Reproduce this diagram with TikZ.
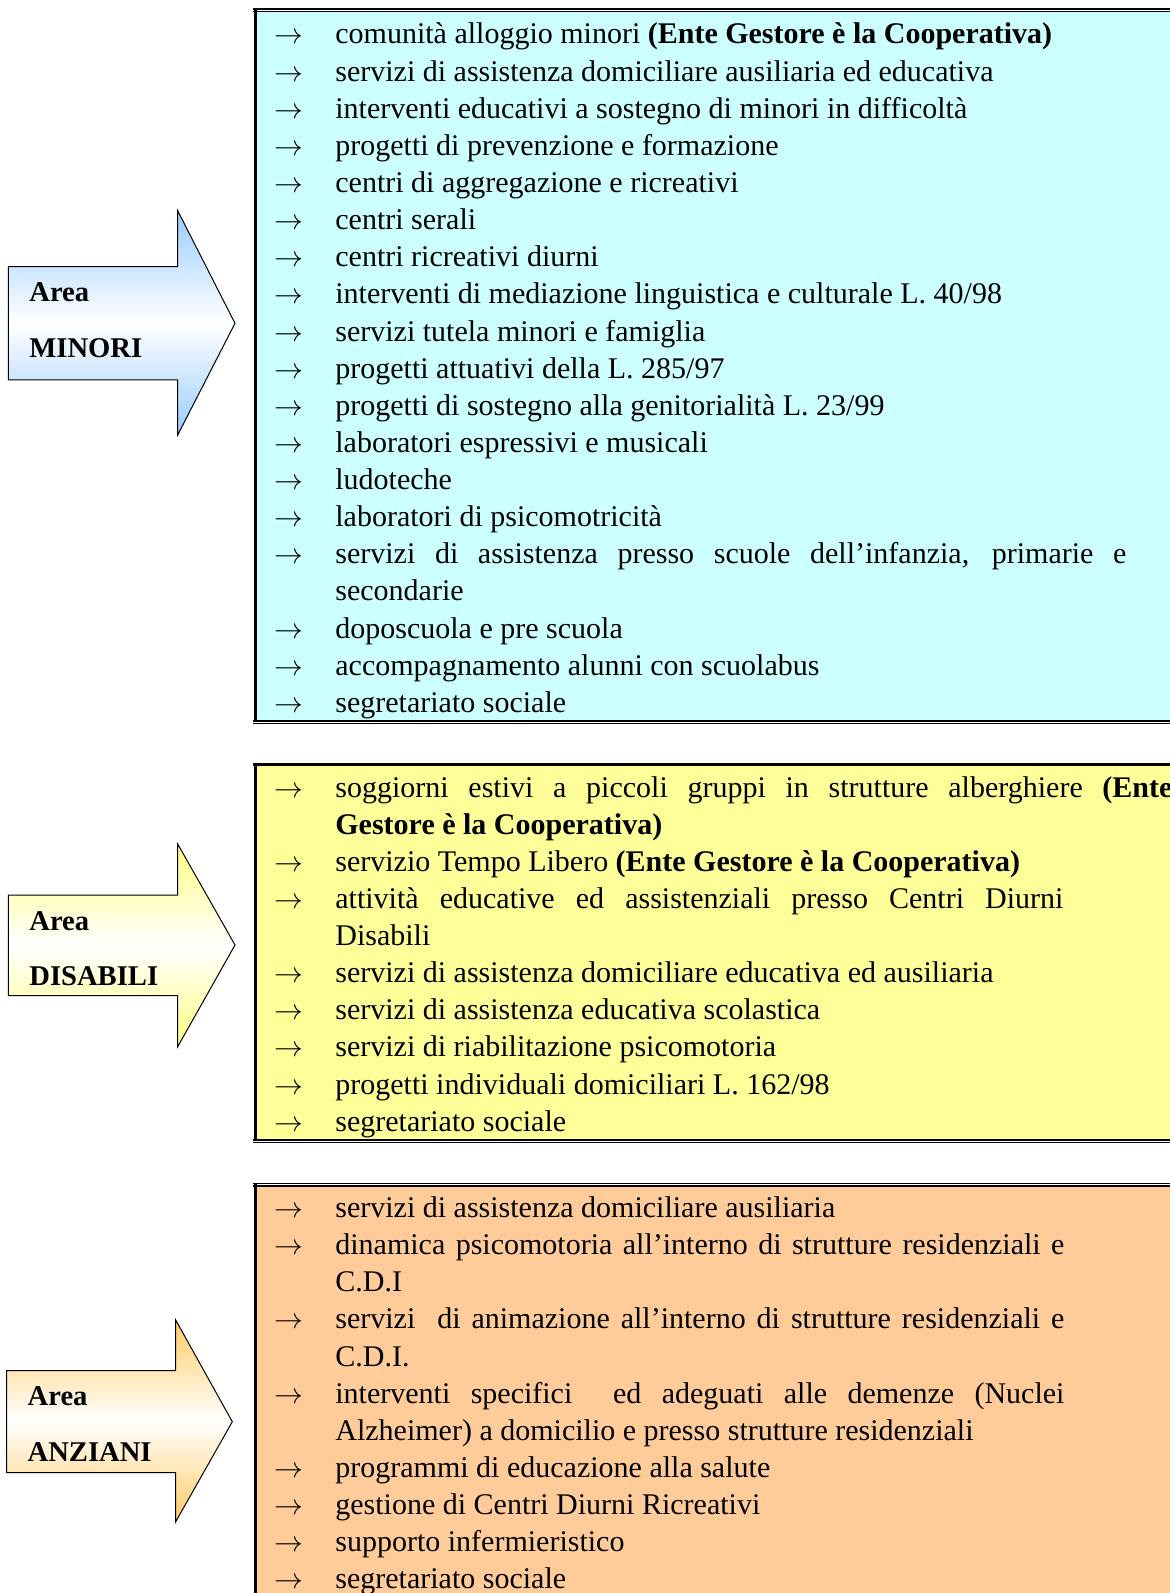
\documentclass[tikz,border=0pt]{standalone}
\usepackage{fontspec}
\setmainfont{Liberation Serif}
\definecolor{azzurro}{HTML}{CCFFFF}
\definecolor{giallo}{HTML}{FFFF99}
\definecolor{pesca}{HTML}{FFCC99}
\definecolor{blufreccia}{HTML}{99CCFF}
\definecolor{giallofreccia}{HTML}{FFFF80}
\definecolor{aranciofreccia}{HTML}{FFCC66}
\newcommand{\giust}[2]{\makebox[#1][s]{#2}}
\tikzset{
  voce/.style={anchor=base west, inner sep=0pt, font=\fontsize{15}{17}\selectfont},
  freccia/.style={anchor=base, inner sep=0pt, font=\fontsize{13.5}{14}\selectfont},
  area/.style={anchor=base west, inner sep=0pt, font=\fontsize{14.3}{16}\selectfont\bfseries},
  spesso/.style={line width=1pt},
  sottile/.style={line width=0.45pt},
  lato/.style={line width=1.5pt},
  sagoma/.style={draw=black, line width=0.5pt, top color=#1, bottom color=#1, middle color=white},
}

\begin{document}
\begin{tikzpicture}[x=0.5pt, y=-0.5pt]
    \useasboundingbox (0,0) rectangle (1170,1593);
    \clip (0,0) rectangle (1170,1593);

    % riquadri
    \fill[azzurro] (257,11) rectangle (1180,720.5);
    \draw[spesso] (253,9) -- (1180,9);
    \draw[sottile] (253,11.4) -- (1180,11.4);
    \draw[spesso] (253,721.3) -- (1180,721.3);
    \draw[sottile] (253,723.4) -- (1180,723.4);
    \draw[lato] (255.5,9) -- (255.5,721.8);

    \fill[giallo] (257,765) rectangle (1180,1139.5);
    \draw[sottile] (253,763) -- (1180,763);
    \draw[spesso] (253,765.2) -- (1180,765.2);
    \draw[spesso] (253,1140.2) -- (1180,1140.2);
    \draw[sottile] (253,1142.4) -- (1180,1142.4);
    \draw[lato] (255.5,763) -- (255.5,1140.7);

    \fill[pesca] (257,1186) rectangle (1180,1600);
    \draw[sottile] (253,1183.5) -- (1180,1183.5);
    \draw[spesso] (253,1185.8) -- (1180,1185.8);
    \draw[lato] (255.5,1183.5) -- (255.5,1600);

    % frecce grandi
    \shadedraw[sagoma=blufreccia]
        (8.3,266.7) -- (177.7,266.7) -- (177.7,210.7) -- (235,323.3)
        -- (177.7,435) -- (177.7,380) -- (8.3,380) -- cycle;
    \shadedraw[sagoma=giallofreccia]
        (8.3,895) -- (177.7,895) -- (177.7,844) -- (235,945)
        -- (177.7,1046.7) -- (177.7,995.7) -- (8.3,995.7) -- cycle;
    \shadedraw[sagoma=aranciofreccia]
        (6.7,1370.7) -- (175.7,1370.7) -- (175.7,1320) -- (232.3,1421.7)
        -- (175.7,1521.7) -- (175.7,1472.7) -- (6.7,1472.7) -- cycle;

    \node[area] (areaM) at (29,301.5) {Area};
    \node[area] (nomeM) at (29,357.5) {MINORI};
    \node[area] (areaD) at (29,930.5) {Area};
    \node[area] (nomeD) at (29,985.3) {DISABILI};
    \node[area] (areaA) at (27.3,1405.8) {Area};
    \node[area] (nomeA) at (27.3,1461.7) {ANZIANI};

    % area minori
    \foreach \r/\testo in {
        1/{comunità alloggio minori \textbf{(Ente Gestore è la Cooperativa)}},
        2/{servizi di assistenza domiciliare ausiliaria ed educativa},
        3/{interventi educativi a sostegno di minori in difficoltà},
        4/{progetti di prevenzione e formazione},
        5/{centri di aggregazione e ricreativi},
        6/{centri serali},
        7/{centri ricreativi diurni},
        8/{interventi di mediazione linguistica e culturale L. 40/98},
        9/{servizi tutela minori e famiglia},
        10/{progetti attuativi della L. 285/97},
        11/{progetti di sostegno alla genitorialità L. 23/99},
        12/{laboratori espressivi e musicali},
        13/{ludoteche},
        14/{laboratori di psicomotricità},
        15/{\giust{395.5pt}{servizi di assistenza presso scuole dell’infanzia, primarie e}},
        16/{secondarie},
        17/{doposcuola e pre scuola},
        18/{accompagnamento alunni con scuolabus},
        19/{segretariato sociale}}
        \node[voce] (minori\r) at (335,{44+37.13*(\r-1)}) {\testo};
    \foreach \r in {1,...,15,17,18,19}
        \node[freccia] (fm\r) at (289,{44+37.13*(\r-1)}) {$\rightarrow$};

    % area disabili
    \foreach \r/\testo in {
        1/{\giust{418.5pt}{soggiorni estivi a piccoli gruppi in strutture alberghiere \textbf{(Ente}}},
        2/{\textbf{Gestore è la Cooperativa)}},
        3/{servizio Tempo Libero \textbf{(Ente Gestore è la Cooperativa)}},
        4/{\giust{364pt}{attività educative ed assistenziali presso Centri Diurni}},
        5/{Disabili},
        6/{servizi di assistenza domiciliare educativa ed ausiliaria},
        7/{servizi di assistenza educativa scolastica},
        8/{servizi di riabilitazione psicomotoria},
        9/{progetti individuali domiciliari L. 162/98},
        10/{segretariato sociale}}
        \node[voce] (disabili\r) at (335,{797+37.13*(\r-1)}) {\testo};
    \foreach \r in {1,3,4,6,7,8,9,10}
        \node[freccia] (fd\r) at (289,{797+37.13*(\r-1)}) {$\rightarrow$};

    % area anziani
    \foreach \r/\testo in {
        1/{servizi di assistenza domiciliare ausiliaria},
        2/{\giust{364.5pt}{dinamica psicomotoria all’interno di strutture residenziali e}},
        3/{C.D.I},
        4/{\giust{364.5pt}{servizi \ di animazione all’interno di strutture residenziali e}},
        5/{C.D.I.},
        6/{\giust{364.5pt}{interventi specifici \ ed adeguati alle demenze (Nuclei}},
        7/{Alzheimer) a domicilio e presso strutture residenziali},
        8/{programmi di educazione alla salute},
        9/{gestione di Centri Diurni Ricreativi},
        10/{supporto infermieristico},
        11/{segretariato sociale}}
        \node[voce] (anziani\r) at (335,{1217.5+37.13*(\r-1)}) {\testo};
    \foreach \r in {1,2,4,6,8,9,10,11}
        \node[freccia] (fa\r) at (289,{1217.5+37.13*(\r-1)}) {$\rightarrow$};
\end{tikzpicture}
\end{document}
